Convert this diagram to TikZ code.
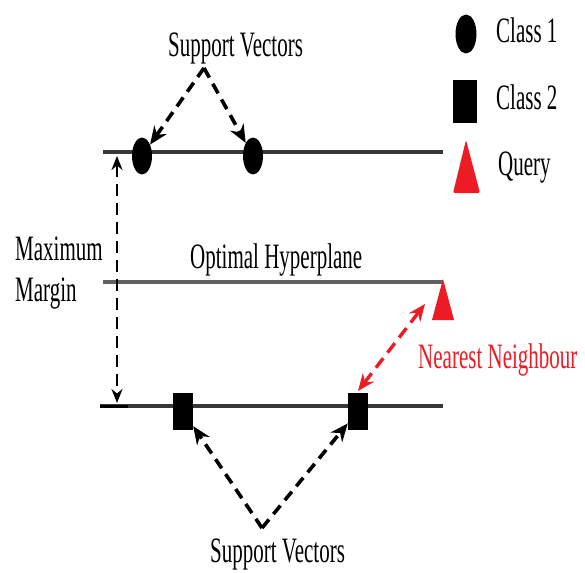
\documentclass[tikz,border=0pt]{standalone}
\usepackage{fontspec}
\usepackage{graphicx}
\setmainfont{Liberation Serif}
\usetikzlibrary{arrows.meta,shapes.geometric}
\definecolor{qred}{HTML}{ED1C24}
\newcommand{\tallt}[1]{\scalebox{1}[1.7]{#1}}
\tikzset{
  lbl/.style={font=\fontsize{21}{21}\selectfont, inner sep=0pt, anchor=base west, text=black},
  plane/.style={line width=4pt, color=black!78},
  dasharrow/.style={line width=3.6pt, dash pattern=on 11pt off 7pt, -{Stealth[length=18pt,width=15pt]}},
  dbl/.style={line width=2.6pt, dash pattern=on 12pt off 7pt, {Stealth[length=14pt,width=11pt]}-{Stealth[length=14pt,width=11pt]}},
  dot/.style={ellipse, fill=black, minimum width=20pt, minimum height=37pt, inner sep=0pt},
  sq/.style={rectangle, fill=black, minimum width=20pt, minimum height=37pt, inner sep=0pt},
}
\begin{document}
\begin{tikzpicture}[x=1pt,y=-1pt]
\useasboundingbox (0,0) rectangle (585,572);
% planes
\coordinate (t1) at (103,152); \coordinate (t2) at (443,152);
\coordinate (h1) at (103,282); \coordinate (h2) at (443,282);
\coordinate (b1) at (100,406); \coordinate (b2) at (443,406);
\coordinate (b3) at (128,406);
\draw[plane] (t1) -- (t2);
\draw[plane, color=black!62, line width=4.5pt] (h1) -- (h2);
\draw[plane] (b1) -- (b2);
\draw[line width=3pt, black] (b1) -- (b3);
% class 1 points
\node[dot] (c1) at (142,156) {};
\node[dot] (c2) at (253,156) {};
% class 2 points
\node[sq] (s1) at (183,411) {};
\node[sq] (s2) at (358,411) {};
% query
\coordinate (qa) at (443,279); \coordinate (qb) at (432,320); \coordinate (qc) at (454,320);
\fill[qred] (qa) -- (qc) -- (qb) -- cycle;
% support vector arrows top
\coordinate (apT) at (204,68);
\draw[dasharrow] (apT) -- (c1);
\draw[dasharrow] (apT) -- (c2);
% support vector arrows bottom
\coordinate (apB) at (262,528);
\draw[dasharrow] (apB) -- (s1);
\draw[dasharrow] (apB) -- (s2);
% maximum margin
\coordinate (mT) at (117,156); \coordinate (mB) at (117,403);
\draw[dbl, black] (mT) -- (mB);
% nearest neighbour
\coordinate (nA) at (358,391); \coordinate (nB) at (425,304);
\draw[dbl, qred, line width=3.4pt, {Stealth[length=17pt,width=14pt]}-{Stealth[length=17pt,width=14pt]}] (nA) -- (nB);
% legend
\node[ellipse, fill=black, minimum width=21pt, minimum height=39pt, inner sep=0pt] (lc) at (466,34) {};
\node[rectangle, fill=black, minimum width=24pt, minimum height=43pt, inner sep=0pt] (ls) at (465,101.5) {};
\coordinate (la) at (466,140); \coordinate (lb) at (453,193); \coordinate (lc2) at (480,193);
\fill[qred, rounded corners=1.5pt] (la) -- (lc2) -- (lb) -- cycle;
\node[lbl] (tc1) at (496,43) {\tallt{Class 1}};
\node[lbl] (tc2) at (496,110) {\tallt{Class 2}};
\node[lbl] (tq) at (498,175) {\tallt{Query}};
% texts
\node[lbl] (svT) at (168,57) {\tallt{Support Vectors}};
\node[lbl] (svB) at (210,562) {\tallt{Support Vectors}};
\node[lbl] (mx) at (15,260) {\tallt{Maximum}};
\node[lbl] (mg) at (15,301) {\tallt{Margin}};
\node[lbl] (oh) at (190,268) {\tallt{Optimal Hyperplane}};
\node[lbl, text=qred] (nn) at (418,368) {\tallt{Nearest Neighbour}};
\end{tikzpicture}
\end{document}
